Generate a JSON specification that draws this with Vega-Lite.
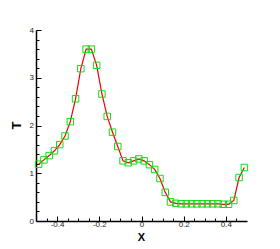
{
  "$schema": "https://vega.github.io/schema/vega-lite/v6.json",
  "width": 211,
  "height": 191,
  "autosize": {"type": "none"},
  "padding": {"left": 36, "top": 30, "right": 33, "bottom": 28},
  "background": "white",
  "config": {
    "view": {"stroke": null},
    "axis": {"grid": false, "domainColor": "black", "tickColor": "black", "labelFont": "Liberation Sans", "titleFont": "Liberation Sans", "labelColor": "#222222", "titleColor": "black"}
  },
  "data": {"values": [
    {"x": -0.4875, "T": 1.19}, {"x": -0.4625, "T": 1.28}, {"x": -0.4375, "T": 1.37}, {"x": -0.4125, "T": 1.47},
    {"x": -0.3875, "T": 1.60}, {"x": -0.3625, "T": 1.78}, {"x": -0.3375, "T": 2.08}, {"x": -0.3125, "T": 2.56},
    {"x": -0.2875, "T": 3.19}, {"x": -0.2625, "T": 3.60}, {"x": -0.2375, "T": 3.60}, {"x": -0.2125, "T": 3.26},
    {"x": -0.1875, "T": 2.66}, {"x": -0.1625, "T": 2.19}, {"x": -0.1375, "T": 1.86}, {"x": -0.1125, "T": 1.56},
    {"x": -0.0875, "T": 1.26}, {"x": -0.0625, "T": 1.22}, {"x": -0.0375, "T": 1.26}, {"x": -0.0125, "T": 1.30},
    {"x": 0.0125, "T": 1.26}, {"x": 0.0375, "T": 1.18}, {"x": 0.0625, "T": 1.08}, {"x": 0.0875, "T": 0.89},
    {"x": 0.1125, "T": 0.60}, {"x": 0.1375, "T": 0.40}, {"x": 0.1625, "T": 0.37}, {"x": 0.1875, "T": 0.36},
    {"x": 0.2125, "T": 0.36}, {"x": 0.2375, "T": 0.36}, {"x": 0.2625, "T": 0.36}, {"x": 0.2875, "T": 0.36},
    {"x": 0.3125, "T": 0.36}, {"x": 0.3375, "T": 0.36}, {"x": 0.3625, "T": 0.36}, {"x": 0.3875, "T": 0.35},
    {"x": 0.4125, "T": 0.35}, {"x": 0.4375, "T": 0.43}, {"x": 0.4625, "T": 0.91}, {"x": 0.4875, "T": 1.12}
  ]},
  "layer": [
    {
      "mark": {"type": "line", "color": "#ee0000", "strokeWidth": 1.2},
      "encoding": {
        "x": {"field": "x", "type": "quantitative", "scale": {"domain": [-0.5, 0.5], "nice": false, "zero": false},
          "axis": {"orient": "bottom", "values": [-0.4, -0.2, 0, 0.2, 0.4], "tickSize": -5, "tickWidth": 1, "domainWidth": 1.5,
            "labelFontSize": 8, "labelPadding": 4, "labelExpr": "datum.value == 0 ? '0' : toString(round(datum.value * 10) / 10)",
            "title": "X", "titleFontSize": 11, "titleFontWeight": "bold", "titleX": 105, "titleY": 19, "titleBaseline": "alphabetic", "titleAlign": "center"}},
        "y": {"field": "T", "type": "quantitative", "scale": {"domain": [0, 4], "nice": false, "zero": false},
          "axis": {"orient": "left", "values": [0, 1, 2, 3, 4], "tickSize": -5, "tickWidth": 1, "domainWidth": 1.5,
            "labelFontSize": 8, "labelPadding": 7.5, "labelExpr": "toString(datum.value)",
            "title": "T", "titleFontSize": 13, "titleFontWeight": "bold", "titleAngle": -90, "titleX": -16, "titleY": 95, "titleBaseline": "alphabetic", "titleAlign": "center"}}
      }
    },
    {
      "mark": {"type": "point", "shape": "square", "filled": false, "color": "#11dd11", "size": 42, "strokeWidth": 1, "opacity": 1},
      "encoding": {
        "x": {"field": "x", "type": "quantitative", "axis": null},
        "y": {"field": "T", "type": "quantitative", "axis": null}
      }
    },
    {
      "mark": {"type": "point", "opacity": 0},
      "encoding": {
        "x": {"field": "x", "type": "quantitative",
          "axis": {"orient": "bottom", "values": [-0.45, -0.35, -0.3, -0.25, -0.15, -0.1, -0.05, 0.05, 0.1, 0.15, 0.25, 0.3, 0.35, 0.45], "tickSize": -3, "tickWidth": 1, "labels": false, "domain": false, "title": null}},
        "y": {"field": "T", "type": "quantitative",
          "axis": {"orient": "left", "values": [0.2, 0.4, 0.6, 0.8, 1.2, 1.4, 1.6, 1.8, 2.2, 2.4, 2.6, 2.8, 3.2, 3.4, 3.6, 3.8], "tickSize": -3, "tickWidth": 1, "labels": false, "domain": false, "title": null}}
      }
    }
  ],
  "resolve": {"axis": {"x": "independent", "y": "independent"}}
}
